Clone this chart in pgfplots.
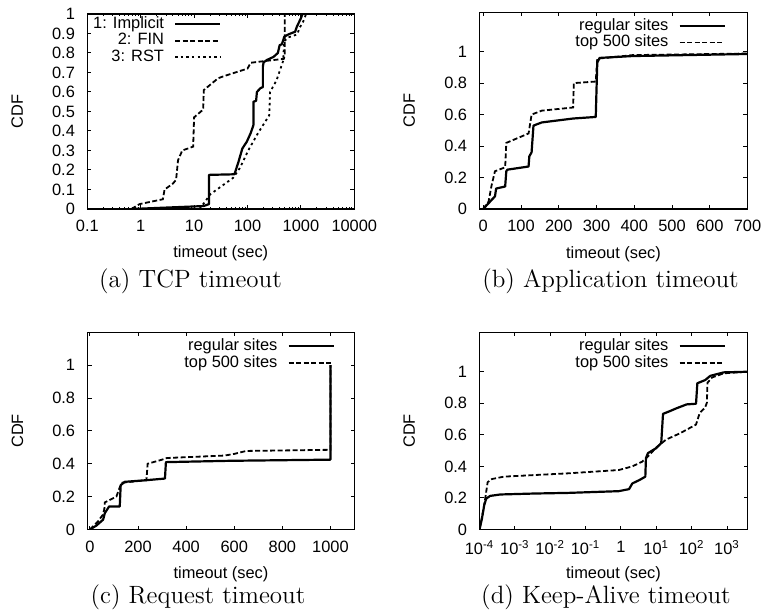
\documentclass[border=0pt]{standalone}
\usepackage{fontspec}
\usepackage{pgfplots}
\pgfplotsset{compat=1.18}
\newfontfamily\helv{Liberation Sans}
\newcommand\sff{\helv\fontsize{8.2}{9.8}\selectfont}
\newcommand\capfont{\normalfont\fontsize{12.5}{15}\selectfont}

\pgfplotsset{
  cdfax/.style={
    scale only axis, anchor=south west,
    clip mode=individual,
    axis line style={line width=0.6pt},
    every tick/.style={black, line width=0.5pt},
    major tick length=2pt, minor tick length=1.2pt,
    tick align=inside,
    tick label style={inner sep=0pt, font=\sff},
    label style={font=\sff},
    /pgf/number format/assume math mode=true,
    /pgf/number format/1000 sep={},
    xticklabel shift=5.5pt, yticklabel shift=6pt,
    ylabel={CDF}, xlabel={timeout (sec)},
    ylabel style={at={(axis description cs:-0.262,0.5)}, anchor=center},
    xlabel style={at={(axis description cs:0.5,-0.228)}, anchor=center},
    ymin=0,
    legend style={draw=none, fill=none, inner sep=0pt, anchor=north east,
      font=\sff, column sep=5pt,
      nodes={inner sep=0pt, text height=6.3pt, text depth=2pt}},
    legend plot pos=right, legend cell align=right,
    legend image code/.code={\draw[##1] (0pt,0pt) -- (22.5pt,0pt);},
  },
  solidln/.style={black, line width=1.1pt, line join=round},
  dashln/.style={black, line width=0.9pt, dash pattern=on 2.5pt off 1.25pt},
  dotln/.style={black, line width=0.9pt, dash pattern=on 1.2pt off 1.6pt},
}

\begin{document}
\begin{tikzpicture}
\path[use as bounding box] (0,0) rectangle (383pt,308pt);

% (a) TCP timeout
\begin{axis}[cdfax, at={(43.65pt,203.5pt)}, width=133.5pt, height=97.5pt,
  xmode=log, xmin=0.1, xmax=10000, log ticks with fixed point,
  ymax=1, ytick={0,0.1,0.2,0.3,0.4,0.5,0.6,0.7,0.8,0.9,1},
  legend style={at={(axis description cs:0.503,0.993)}},
  legend entries={1: Implicit, 2: FIN, 3: RST}]
\addplot[solidln] coordinates {(0.68,0) (15,0.015) (19,0.025) (19,0.175) (57,0.178)
  (68,0.243) (80,0.31) (97,0.345) (115,0.39) (129,0.43) (129,0.55) (145,0.555)
  (150,0.6) (175,0.62) (194,0.625) (194,0.73) (200,0.752) (230,0.764) (307,0.78)
  (370,0.8) (400,0.84) (440,0.845) (490,0.884) (590,0.896) (780,0.909) (840,0.935)
  (1000,0.978) (1070,1.0)};
\addplot[dashln] coordinates {(0.67,0) (0.95,0.025) (2.6,0.05) (2.8,0.1) (4.0,0.13)
  (4.6,0.15) (5.0,0.25) (6.0,0.30) (9.6,0.32) (10,0.47) (14.8,0.51) (15.2,0.61)
  (28,0.67) (35,0.68) (100,0.72) (115,0.75) (230,0.76) (480,0.77) (500,0.79) (500,1.0)};
\addplot[dotln] coordinates {(12.6,0) (15.8,0.035) (20,0.075) (54,0.16) (72,0.21)
  (103,0.30) (158,0.39) (255,0.48) (265,0.6) (350,0.66) (466,0.76) (485,0.86)
  (578,0.88) (850,0.895) (950,0.93) (1100,0.96) (1250,1.0)};
\end{axis}

% (b) Application timeout
\begin{axis}[cdfax, at={(239.75pt,203.5pt)}, width=134pt, height=98.35pt,
  xmin=-10, xmax=700, xtick={0,100,200,300,400,500,600,700},
  ymax=1.25, ytick={0,0.2,0.4,0.6,0.8,1},
  legend style={at={(axis description cs:0.92,0.975)}},
  legend entries={regular sites, top 500 sites}]
\addplot[solidln] coordinates {(0,0) (9.7,0.026) (18,0.047) (23,0.06) (31,0.08)
  (34,0.13) (58,0.143) (61,0.24) (64,0.25) (120,0.27) (122,0.335) (128,0.36)
  (133,0.53) (155,0.55) (238,0.575) (298,0.585) (302,0.93) (308,0.96) (396,0.972)
  (700,0.985)};
\addplot[dashln] coordinates {(0,0) (14,0.047) (22,0.15) (31,0.24) (58,0.265)
  (61,0.42) (120,0.48) (128,0.6) (155,0.625) (238,0.645) (240,0.80) (298,0.81)
  (302,0.955) (396,0.978) (700,0.988)};
\end{axis}

% (c) Request timeout
\begin{axis}[cdfax, at={(43.75pt,43.25pt)}, width=133.5pt, height=98.6pt,
  xmin=-10, xmax=1100, xtick={0,200,400,600,800,1000},
  ymax=1.2, ytick={0,0.2,0.4,0.6,0.8,1},
  legend style={at={(axis description cs:0.927,0.973)}},
  legend entries={regular sites, top 500 sites}]
\addplot[solidln] coordinates {(0,0) (27,0.024) (55,0.06) (62,0.1) (80,0.14)
  (124,0.14) (128,0.27) (145,0.29) (234,0.30) (312,0.31) (316,0.41) (581,0.418)
  (1000,0.425) (1000,1.0)};
\addplot[dashln] coordinates {(0,0) (34,0.05) (54,0.09) (60,0.125) (62,0.165)
  (110,0.2) (125,0.26) (135,0.285) (235,0.30) (240,0.40) (300,0.425) (320,0.435)
  (560,0.45) (600,0.46) (650,0.478) (1000,0.485) (1000,1.0)};
\end{axis}

% (d) Keep-Alive timeout
\begin{axis}[cdfax, at={(239.75pt,43.25pt)}, width=134pt, height=98.6pt,
  xmode=log, xmin=1e-4, xmax=3800, minor tick length=0pt,
  xtick={1e-4,1e-3,1e-2,1e-1,1,1e1,1e2,1e3},
  xticklabels={10\textsuperscript{-4},10\textsuperscript{-3},10\textsuperscript{-2},
    10\textsuperscript{-1},1,10\textsuperscript{1},10\textsuperscript{2},10\textsuperscript{3}},
  ymax=1.25, ytick={0,0.2,0.4,0.6,0.8,1},
  legend style={at={(axis description cs:0.92,0.973)}},
  legend entries={regular sites, top 500 sites}]
\addplot[solidln] coordinates {(1e-4,0) (1.17e-4,0.068) (1.36e-4,0.154) (1.55e-4,0.196)
  (2.0e-4,0.213) (3.9e-4,0.222) (3.5e-3,0.228) (0.032,0.232) (0.87,0.243) (1.7,0.256)
  (2.1,0.292) (3.3,0.313) (4.9,0.335) (5.1,0.452) (5.8,0.484) (10,0.516) (13.8,0.548)
  (15.5,0.733) (24,0.75) (37,0.768) (72,0.793) (133,0.797) (145,0.927) (240,0.947)
  (337,0.974) (810,0.996) (3800,1.0)};
\addplot[dashln] coordinates {(1e-4,0) (1.25e-4,0.11) (1.45e-4,0.196) (1.7e-4,0.30)
  (2.26e-4,0.32) (4.9e-4,0.335) (3.5e-3,0.345) (0.032,0.356) (0.87,0.377) (2.1,0.40)
  (4.0,0.43) (5.8,0.463) (10,0.52) (19,0.57) (47,0.61) (110,0.655) (133,0.665)
  (170,0.74) (240,0.772) (270,0.804) (280,0.93) (380,0.964) (810,0.99) (3800,1.0)};
\end{axis}

% captions
\node[font=\capfont] at (95.25pt,167.5pt) {(a) TCP timeout};
\node[font=\capfont] at (305.25pt,167.5pt) {(b) Application timeout};
\node[font=\capfont] at (99pt,9.5pt) {(c) Request timeout};
\node[font=\capfont] at (303pt,9.5pt) {(d) Keep-Alive timeout};
\end{tikzpicture}
\end{document}
